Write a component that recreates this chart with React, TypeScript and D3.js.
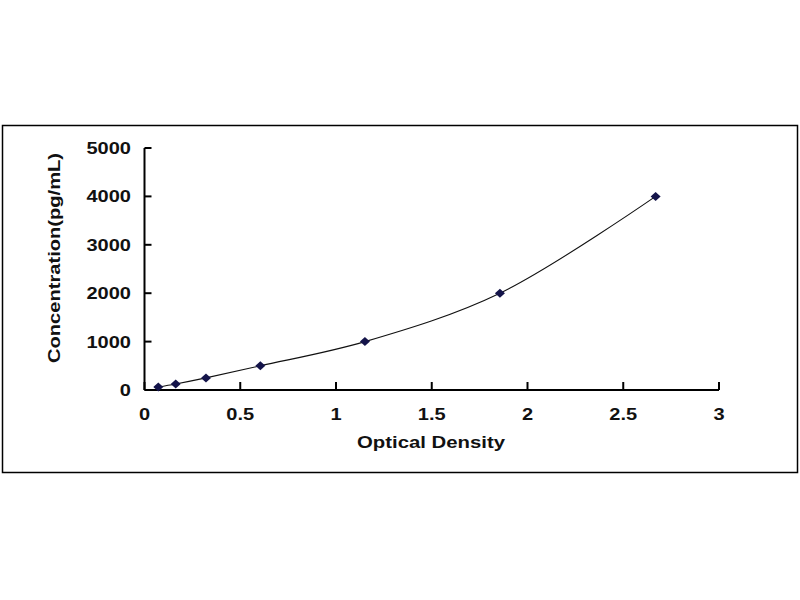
import { useEffect, useRef } from 'react';
import * as d3 from 'd3';

// standard curve readings
const opticalDensity = [0.072, 0.163, 0.321, 0.605, 1.151, 1.856, 2.669];
const concentration = [62.5, 125, 250, 500, 1000, 2000, 4000];
const xTicks = [0, 0.5, 1, 1.5, 2, 2.5, 3];
const yTicks = [0, 1000, 2000, 3000, 4000, 5000];

export default function App() {
  const ref = useRef<SVGSVGElement>(null);

  useEffect(() => {
    if (!ref.current) return;
    const svg = d3.select(ref.current);
    svg.selectAll('*').remove();

    const font = '"Liberation Sans", Arial, sans-serif';
    const stretch = 1.25;

    svg.append('rect').attr('width', 800).attr('height', 600).attr('fill', '#fff');

    // outer frame
    svg.append('rect')
      .attr('x', 2.5).attr('y', 125.5)
      .attr('width', 795).attr('height', 347)
      .attr('fill', 'none').attr('stroke', '#000').attr('stroke-width', 1.5);

    const x = d3.scaleLinear().domain([0, 3]).range([144.5, 719]);
    const y = d3.scaleLinear().domain([0, 5000]).range([390, 148]);

    // axes
    svg.append('line')
      .attr('x1', x(0)).attr('x2', x(3)).attr('y1', y(0)).attr('y2', y(0))
      .attr('stroke', '#000').attr('stroke-width', 2);
    svg.append('line')
      .attr('x1', x(0)).attr('x2', x(0)).attr('y1', y(0)).attr('y2', y(5000))
      .attr('stroke', '#000').attr('stroke-width', 2);

    svg.selectAll('.xtick').data(xTicks).enter().append('line')
      .attr('x1', d => x(d)).attr('x2', d => x(d))
      .attr('y1', y(0)).attr('y2', y(0) - 8)
      .attr('stroke', '#000').attr('stroke-width', 2);
    svg.selectAll('.ytick').data(yTicks).enter().append('line')
      .attr('x1', x(0)).attr('x2', x(0) + 7)
      .attr('y1', d => y(d)).attr('y2', d => y(d))
      .attr('stroke', '#000').attr('stroke-width', 2);

    // tick labels
    svg.selectAll('.xlabel').data(xTicks).enter().append('text')
      .attr('transform', d => `translate(${x(d)},420) scale(${stretch},1)`)
      .attr('text-anchor', 'middle')
      .style('font-family', font).style('font-weight', 'bold').style('font-size', '16px')
      .style('fill', '#111')
      .text(d => String(d));
    svg.selectAll('.ylabel').data(yTicks).enter().append('text')
      .attr('transform', d => `translate(131,${y(d) + 6}) scale(${stretch},1)`)
      .attr('text-anchor', 'end')
      .style('font-family', font).style('font-weight', 'bold').style('font-size', '16px')
      .style('fill', '#111')
      .text(d => String(d));

    // axis titles
    svg.append('text')
      .attr('x', 357).attr('y', 448)
      .attr('textLength', 148).attr('lengthAdjust', 'spacingAndGlyphs')
      .style('font-family', font).style('font-weight', 'bold').style('font-size', '17px')
      .style('fill', '#111')
      .text('Optical Density');
    svg.append('text')
      .attr('transform', 'translate(60,363) rotate(-90)')
      .attr('textLength', 210).attr('lengthAdjust', 'spacingAndGlyphs')
      .style('font-family', font).style('font-weight', 'bold').style('font-size', '17px')
      .style('fill', '#111')
      .text('Concentration(pg/mL)');

    const pts = opticalDensity.map((d, i) => [d, concentration[i]] as [number, number]);

    // smoothed curve
    const line = d3.line<[number, number]>()
      .x(d => x(d[0])).y(d => y(d[1]))
      .curve(d3.curveCatmullRom.alpha(0.5));
    svg.append('path')
      .attr('d', line(pts))
      .attr('fill', 'none').attr('stroke', '#111').attr('stroke-width', 1.1);

    // diamond markers
    svg.selectAll('.pt').data(pts).enter().append('path')
      .attr('transform', d => `translate(${x(d[0])},${y(d[1])})`)
      .attr('d', 'M0,-4.5L5,0L0,4.5L-5,0Z')
      .attr('fill', '#14144a');
  }, []);

  return (
    <svg ref={ref} width={800} height={600}
      style={{ position: 'absolute', left: 0, top: 0 }} />
  );
}
